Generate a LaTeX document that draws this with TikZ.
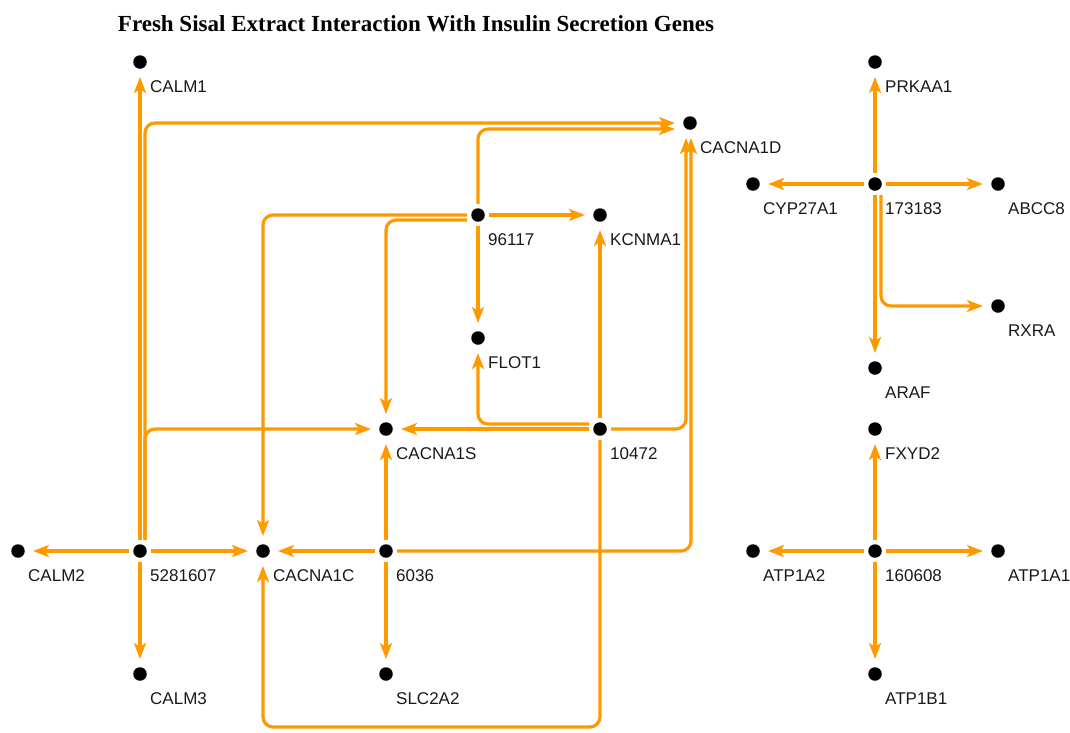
\documentclass[tikz,border=0pt]{standalone}
\usepackage{fontspec}
\setmainfont{Liberation Sans}
\newfontfamily\titlefont{Liberation Serif}
\usetikzlibrary{arrows.meta,calc}
\definecolor{myorange}{RGB}{255,153,0}
\newcommand\gene[4]{\node[dot] (#1) at (#2,#3) {};
  \node[lbl] (#1-l) at (#2+10,#3+25) {#4};}
\begin{document}
\begin{tikzpicture}[x=1pt,y=-1pt,
  dot/.style={circle,fill=black,inner sep=0pt,minimum size=13.5pt},
  lbl/.style={anchor=west,inner sep=0pt,font=\fontsize{17}{19}\selectfont,text=black!90},
  edge/.style={draw=myorange,line width=3.2pt,rounded corners=10pt,
    -{Stealth[length=16pt,width=12pt,inset=4pt]},shorten <=11pt,shorten >=15pt},
]
\useasboundingbox (0,0) rectangle (1070,732);
\node[font=\titlefont\bfseries\fontsize{23}{26}\selectfont,inner sep=0pt] (title) at (416,24)
  {Fresh Sisal Extract Interaction With Insulin Secretion Genes};
\coordinate (bot) at (0,727);

\gene{CALM1}{140}{62}{CALM1}
\gene{CACNA1D}{690}{123}{CACNA1D}
\gene{PRKAA1}{875}{62}{PRKAA1}
\gene{CYP27A1}{753}{184}{CYP27A1}
\gene{n173183}{875}{184}{173183}
\gene{ABCC8}{998}{184}{ABCC8}
\gene{n96117}{478}{215}{96117}
\gene{KCNMA1}{600}{215}{KCNMA1}
\gene{RXRA}{998}{306}{RXRA}
\gene{FLOT1}{478}{338}{FLOT1}
\gene{ARAF}{875}{368}{ARAF}
\gene{CACNA1S}{386}{429}{CACNA1S}
\gene{n10472}{600}{429}{10472}
\gene{FXYD2}{875}{429}{FXYD2}
\gene{CALM2}{18}{551}{CALM2}
\gene{n5281607}{140}{551}{5281607}
\gene{CACNA1C}{263}{551}{CACNA1C}
\gene{n6036}{386}{551}{6036}
\gene{ATP1A2}{753}{551}{ATP1A2}
\gene{n160608}{875}{551}{160608}
\gene{ATP1A1}{998}{551}{ATP1A1}
\gene{CALM3}{140}{674}{CALM3}
\gene{SLC2A2}{386}{674}{SLC2A2}
\gene{ATP1B1}{875}{674}{ATP1B1}

% 5281607
\draw[edge] (n5281607.center) -- (CALM1.center);
\draw[edge] (n5281607.center) -- (CALM2.center);
\draw[edge] (n5281607.center) -- (CALM3.center);
\draw[edge] (n5281607.center) -- (CACNA1C.center);
\draw[edge] ($(n5281607.center)+(5,0)$) |- (CACNA1D.center);
\draw[edge] ($(n5281607.center)+(5,0)$) |- (CACNA1S.center);
% 6036
\draw[edge] (n6036.center) -- (CACNA1S.center);
\draw[edge] (n6036.center) -- (CACNA1C.center);
\draw[edge] (n6036.center) -- (SLC2A2.center);
\draw[edge] (n6036.center) -| ($(CACNA1D.center)+(1,0)$);
% 96117
\draw[edge] (n96117.center) -- (KCNMA1.center);
\draw[edge] (n96117.center) -- (FLOT1.center);
\draw[edge] (n96117.center) |- ($(CACNA1D.center)+(0,6)$);
\draw[edge] (n96117.center) -| (CACNA1C.center);
\draw[edge] ($(n96117.center)+(0,5)$) -| (CACNA1S.center);
% 10472
\draw[edge] (n10472.center) -- (KCNMA1.center);
\draw[edge] (n10472.center) -- (CACNA1S.center);
\draw[edge] ($(n10472.center)+(0,-5)$) -| (FLOT1.center);
\draw[edge] (n10472.center) -| ($(CACNA1D.center)+(-4,0)$);
\draw[edge] (n10472.center) -- (n10472.center |- bot) -| (CACNA1C.center);
% 173183
\draw[edge] (n173183.center) -- (PRKAA1.center);
\draw[edge] (n173183.center) -- (CYP27A1.center);
\draw[edge] (n173183.center) -- (ABCC8.center);
\draw[edge] (n173183.center) -- (ARAF.center);
\draw[edge] ($(n173183.center)+(6,0)$) |- (RXRA.center);
% 160608
\draw[edge] (n160608.center) -- (FXYD2.center);
\draw[edge] (n160608.center) -- (ATP1A2.center);
\draw[edge] (n160608.center) -- (ATP1A1.center);
\draw[edge] (n160608.center) -- (ATP1B1.center);
\end{tikzpicture}
\end{document}
